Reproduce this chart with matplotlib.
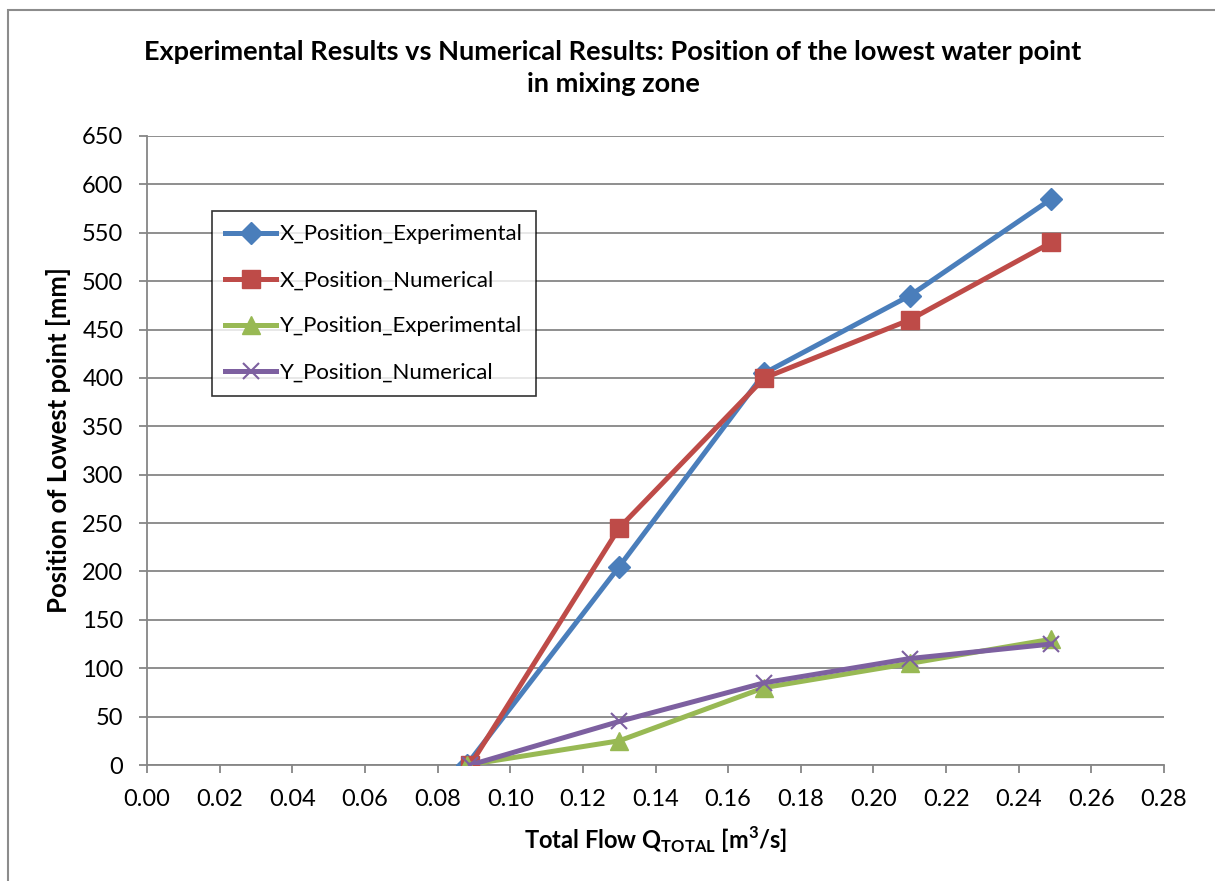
import matplotlib
matplotlib.use("Agg")
import matplotlib.pyplot as plt
from matplotlib.patches import Rectangle

plt.rcParams['font.family'] = ['Lato', 'DejaVu Sans']
plt.rcParams['mathtext.fontset'] = 'custom'
plt.rcParams['mathtext.rm'] = 'Lato'
plt.rcParams['mathtext.bf'] = 'Lato:bold'

# Data
flow_exp = [0.088, 0.13, 0.17, 0.21, 0.249]
flow_num = [0.089, 0.13, 0.17, 0.21, 0.249]
x_pos_exp = [0, 205, 405, 485, 585]
x_pos_num = [0, 245, 400, 460, 540]
y_pos_exp = [0, 25, 80, 105, 130]
y_pos_num = [0, 45, 85, 110, 125]
series_names = ["X_Position_Experimental", "X_Position_Numerical",
                "Y_Position_Experimental", "Y_Position_Numerical"]
x_ticks = [i * 0.02 for i in range(15)]
y_ticks = list(range(0, 651, 50))

fig = plt.figure(figsize=(12.15, 8.81), dpi=100)
ax = fig.add_axes([147 / 1215, 1 - 765 / 881, (1164 - 147) / 1215, (765 - 136) / 881])

# Chart border
fig.patches.append(Rectangle((8 / 1215, -0.02), 1.05, 1 - 10 / 881 + 0.02,
                             transform=fig.transFigure, fill=False,
                             edgecolor='#8c8c8c', linewidth=1.5))

lw = 3.6
ax.plot(flow_exp, x_pos_exp, color='#4A7EBB', lw=lw, marker='D', markersize=11,
        label=series_names[0], zorder=3)
ax.plot(flow_num, x_pos_num, color='#BE4B48', lw=lw, marker='s', markersize=13.5,
        label=series_names[1], zorder=3)
ax.plot(flow_exp, y_pos_exp, color='#98B954', lw=lw, marker='^', markersize=13,
        label=series_names[2], zorder=3)
ax.plot(flow_num, y_pos_num, color='#7D60A0', lw=lw, marker='x', markersize=12,
        markeredgewidth=1.5, label=series_names[3], zorder=4)

ax.set_xlim(0, 0.28)
ax.set_ylim(0, 650)
ax.set_xticks(x_ticks)
ax.set_xticklabels([f"{t:.2f}" for t in x_ticks])
ax.set_yticks(y_ticks)
ax.yaxis.grid(True, color='#868686', linewidth=1.3)
ax.set_axisbelow(True)
for s in ['top', 'right']:
    ax.spines[s].set_visible(False)
for s in ['left', 'bottom']:
    ax.spines[s].set_color('#868686')
    ax.spines[s].set_linewidth(1.3)
ax.tick_params(axis='both', direction='out', length=6, width=1.3, color='#868686',
               labelsize=17, labelcolor='black', pad=11)

ax.set_xlabel("Total Flow Q$_{\\mathbf{TOTAL}}$ [m$^{\\mathbf{3}}$/s]", fontsize=17,
              fontweight='bold', labelpad=11)
ax.set_ylabel("Position of Lowest point [mm]", fontsize=18.5, fontweight='bold', labelpad=8)
ax.yaxis.label.set_y(0.516)

fig.text(613 / 1215, 1 - 68 / 881,
         "Experimental Results vs Numerical Results: Position of the lowest water point\nin mixing zone",
         ha='center', va='center', fontsize=19.5, fontweight='bold', linespacing=1.35)

leg = ax.legend(loc='upper left', bbox_to_anchor=((212 - 147) / 1017, 1 - (211 - 136) / 629),
                fontsize=16, frameon=True, fancybox=False, edgecolor='black',
                handlelength=2.3, labelspacing=1.17, borderpad=0.6, handletextpad=0.15,
                borderaxespad=0)
leg.get_frame().set_linewidth(1.2)

fig.savefig("out.png", dpi=100)
